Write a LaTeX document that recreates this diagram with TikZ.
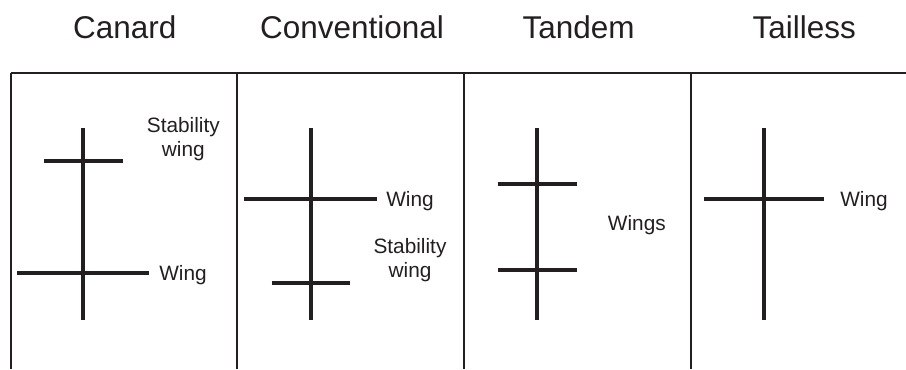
\documentclass[tikz,border=0pt]{standalone}
\usepackage{fontspec}
\setmainfont{Liberation Sans}
\usepackage{tikz}
\usetikzlibrary{calc}
\definecolor{figK}{RGB}{35,31,32}
\tikzset{body/.style={line width=3pt, figK},
  frame/.style={line width=1.4pt, figK},
  ttl/.style={font=\fontsize{23.6}{28}\selectfont, text=figK, anchor=base, inner sep=0pt},
  lbl/.style={font=\fontsize{15.6}{18}\selectfont, text=figK, inner sep=0pt, align=center}}

\begin{document}
\begin{tikzpicture}[x=0.75pt, y=-0.75pt]
\useasboundingbox (0,0) rectangle (906,369);
% ===== frame: top rule and panel separators =====
\draw[frame] (10.5,72.7) -- (906,72.7);
\foreach \sx in {10.7,237.3,464,690.7}{
  \draw[frame] (\sx,72.7) -- (\sx,369);
}
% ===== titles =====
\node[ttl] (tCan) at (124.7,38.5) {Canard};
\node[ttl] (tCon) at (352,38.5) {Conventional};
\node[ttl] (tTan) at (578.7,38.5) {Tandem};
\node[ttl] (tTai) at (804.3,38.5) {Tailless};
% ===== canard: stability wing ahead of the wing =====
\begin{scope}[shift={(83.3,0)}]
\draw[body] (0,128) -- (0,320); % fuselage
\draw[body] (-39.3,161) -- (39.7,161);
\draw[body] (-66.3,273) -- (66,273);
\node[lbl, anchor=base] (sCan) at (100,156) {Stability\\wing};
\node[lbl, anchor=base west] (wCan) at (75.7,280) {Wing};
\end{scope}
% ===== conventional: wing ahead, stability wing behind =====
\begin{scope}[shift={(310.7,0)}]
\draw[body] (0,128) -- (0,320);
\draw[body] (-66.4,199) -- (66.3,199);
\draw[body] (-39,283) -- (39,283);
\node[lbl, anchor=base west] (wCon) at (75.3,206) {Wing};
\node[lbl, anchor=base] (sCon) at (99.3,277.7) {Stability\\wing};
\end{scope}
% ===== tandem: two equal wings =====
\begin{scope}[shift={(537.3,0)}]
\draw[body] (0,128) -- (0,320);
\foreach \wy in {184.3,270}{
  \draw[body] (-39,\wy) -- (39.4,\wy);
}
\node[lbl, anchor=base west] (wTan) at (70.4,230) {Wings};
\end{scope}
% ===== tailless: wing only =====
\begin{scope}[shift={(764,0)}]
\draw[body] (0,128) -- (0,320);
\draw[body] (-60,199) -- (60.3,199);
\node[lbl, anchor=base west] (wTai) at (76,206) {Wing};
\end{scope}
\end{tikzpicture}
\end{document}
